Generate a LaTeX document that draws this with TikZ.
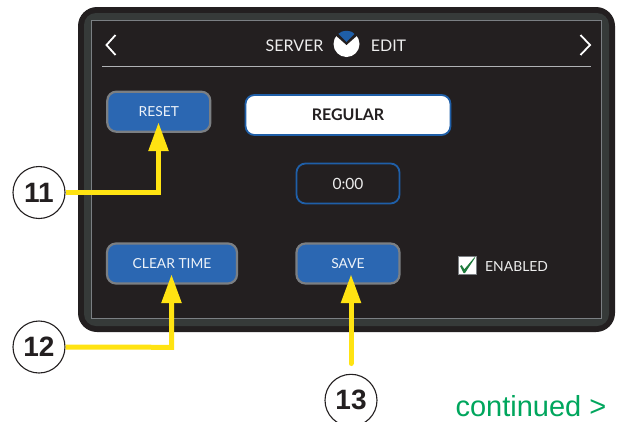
\documentclass[tikz,border=0pt]{standalone}
\usepackage{fontspec}
\setmainfont{Lato}
\newfontfamily\arialf{Liberation Sans}
\definecolor{bez}{HTML}{231F20}
\definecolor{bezin}{HTML}{363A39}
\definecolor{btn}{HTML}{2B67B2}
\definecolor{btnb}{HTML}{7B7F83}
\definecolor{navy}{HTML}{1F5FA8}
\definecolor{ylw}{HTML}{FFE312}
\definecolor{grn}{HTML}{00A65D}
\definecolor{chkg}{HTML}{1E7A3C}
\tikzset{x=1pt,y=-1pt,
 bluebtn/.style={draw=btnb,line width=2.2pt,fill=btn,rounded corners=9pt,text=white!92!btn,font=\fontsize{13.8}{14}\selectfont,inner sep=0pt},
 callout/.style={circle,draw=bez,line width=1.1pt,fill=white,minimum size=52pt,inner sep=0pt,font=\arialf\bfseries\fontsize{28}{30}\selectfont,text=bez},
 ylwline/.style={draw=ylw,line width=5pt,line cap=butt,line join=miter},
 ylwtip/.style={fill=ylw,draw=none},
 scrtext/.style={text=white!92!bez,font=\fontsize{16}{18}\selectfont,inner sep=0pt}
}
\begin{document}
\begin{tikzpicture}
\useasboundingbox (0,0) rectangle (618,421);
\fill[white] (0,0) rectangle (618,421);
% bezel
\fill[bez,rounded corners=19pt] (78,7) rectangle (615,332);
\fill[bezin,rounded corners=12pt] (84,13) rectangle (609,326);
\fill[bez] (91,20) rectangle (602,319);
\draw[btnb,line width=0.8pt] (91.5,20.5) rectangle (601.5,318.5);
% header
\draw[white,line width=1.8pt,line join=miter] (115.5,35) -- (106.5,45) -- (115.5,55);
\draw[white,line width=1.8pt,line join=miter] (580.5,35) -- (590,45) -- (580.5,55);
\node[scrtext] (srv) at (294.5,45.5) {SERVER};
\node[scrtext] (edt) at (388.5,45.5) {EDIT};
\fill[white] (346.5,44) circle (13pt);
\fill[bez] (346.5,45) -- (335.5,35.3) -- (332,28) -- (361,28) -- (357.5,35.3) -- cycle;
\begin{scope}
\clip (346.5,44) circle (13.2pt);
\fill[navy] (346.5,42) -- (338.2,33.5) -- (338.2,28) -- (354.8,28) -- (354.8,33.5) -- cycle;
\end{scope}
\draw[btnb!60!white,line width=1pt] (102,66.5) -- (591,66.5);
% buttons
\node[bluebtn,minimum width=103pt,minimum height=40pt] (reset) at (158.8,111.7) {RESET};
\node[bluebtn,minimum width=130pt,minimum height=40pt] (clear) at (172,263.5) {CLEAR TIME};
\node[bluebtn,minimum width=103pt,minimum height=40pt] (save) at (348,263.5) {SAVE};
\node[draw=navy,line width=1.8pt,fill=white,rounded corners=9pt,minimum width=205pt,minimum height=40pt,inner sep=0pt,text=bez,font=\bfseries\fontsize{16}{18}\selectfont] (reg) at (348,115) {REGULAR};
\node[draw=navy,line width=1.8pt,fill=bez,rounded corners=9pt,minimum width=103pt,minimum height=40pt,inner sep=0pt,text=white!92!bez,font=\fontsize{15.5}{16}\selectfont] (tm) at (348,183.5) {0:00};
% checkbox
\node[draw=btnb,line width=1pt,fill=white,minimum size=17.5pt,inner sep=0pt] (chk) at (467.5,265.5) {};
\fill[chkg] (460,266) -- (461.8,265.2) -- (464.3,269.3) -- (474.6,257.2) -- (475.2,257.6) -- (465,273) -- (463.6,273) -- cycle;
\node[scrtext,anchor=west,font=\fontsize{13.9}{14}\selectfont] (en) at (485,266.5) {ENABLED};
% callouts
\node[callout] (c11) at (39,192.5) {11};
\node[callout] (c12) at (39,347) {12};
\node[callout] (c13) at (351,400.3) {13};
\coordinate (t11) at (158.5,123);
\coordinate (t12) at (171.5,275);
\coordinate (t13) at (351,275);
\draw[ylwline] (c11.east) -- (158.5,192.5) -- (158.5,140);
\fill[ylwtip] (t11) -- (148.2,151) -- (168.8,151) -- cycle;
\draw[ylwline] (c12.east) -- (171.7,347.3) -- (171.7,295);
\fill[ylwtip] (t12) -- (161.2,303) -- (181.8,303) -- cycle;
\draw[ylwline,line cap=round] (351,363.5) -- (351,295);
\fill[ylwtip] (t13) -- (340.7,303) -- (361.3,303) -- cycle;
\node[text=grn,font=\arialf\fontsize{29}{31}\selectfont,inner sep=0pt] (cont) at (531,406.5) {continued >};
\end{tikzpicture}
\end{document}
